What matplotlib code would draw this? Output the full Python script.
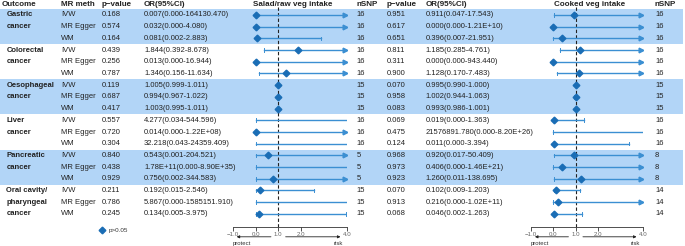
import re
import numpy as np
import matplotlib.pyplot as plt
from matplotlib.patches import Rectangle

plt.rcParams['font.family'] = ['Liberation Sans', 'DejaVu Sans']

# 数据
outcomes = [["Gastric", "cancer"], ["Colorectal", "cancer"], ["Oesophageal", "cancer"],
            ["Liver", "cancer"], ["Pancreatic", "cancer"], ["Oral cavity/", "pharyngeal", "cancer"]]
methods = ["IVW", "MR Egger", "WM"]

salad_p = [0.168, 0.574, 0.164, 0.439, 0.256, 0.787, 0.119, 0.687, 0.417,
           0.557, 0.720, 0.304, 0.840, 0.438, 0.929, 0.211, 0.786, 0.245]
salad_or = ["0.007(0.000-164130.470)", "0.032(0.000-4.080)", "0.081(0.002-2.883)",
            "1.844(0.392-8.678)", "0.013(0.000-16.944)", "1.346(0.156-11.634)",
            "1.005(0.999-1.011)", "0.994(0.967-1.022)", "1.003(0.995-1.011)",
            "4.277(0.034-544.596)", "0.014(0.000-1.22E+08)", "32.218(0.043-24359.409)",
            "0.543(0.001-204.521)", "1.78E+11(0.000-8.90E+35)", "0.756(0.002-344.583)",
            "0.192(0.015-2.546)", "5.867(0.000-1585151.910)", "0.134(0.005-3.975)"]
salad_nsnp = [16, 16, 15, 16, 5, 15]

cooked_p = [0.951, 0.617, 0.651, 0.811, 0.311, 0.900, 0.070, 0.958, 0.083,
            0.069, 0.475, 0.124, 0.968, 0.973, 0.923, 0.070, 0.913, 0.068]
cooked_or = ["0.911(0.047-17.543)", "0.000(0.000-1.21E+10)", "0.396(0.007-21.951)",
             "1.185(0.285-4.761)", "0.000(0.000-943.440)", "1.128(0.170-7.483)",
             "0.995(0.990-1.000)", "1.002(0.944-1.063)", "0.993(0.986-1.001)",
             "0.019(0.000-1.363)", "21576891.780(0.000-8.20E+26)", "0.011(0.000-3.394)",
             "0.920(0.017-50.409)", "0.406(0.000-1.46E+21)", "1.260(0.011-138.695)",
             "0.102(0.009-1.203)", "0.216(0.000-1.02E+11)", "0.046(0.002-1.263)"]
cooked_nsnp = [16, 16, 15, 16, 8, 14]

xticks = [-1, 0, 1, 2, 4]
xticklabels = ["\u22121.0", "0.0", "1.0", "2.0", "4.0"]


def parse(txt):
    return [float(v) for v in re.match(r"(.+)\((.+)-(.+)\)", txt).groups()]


W, H = 685, 246
fig = plt.figure(figsize=(W / 100, H / 100), dpi=100)
ax = fig.add_axes([0, 0, 1, 1])
ax.set_xlim(0, W)
ax.set_ylim(H, 0)
ax.axis('off')

band_c = '#b2d5f7'
line_c = '#3b8fd2'
pt_c = '#1a6db5'
fs = 5.5
hfs = 5.8
txt_c = '#222222'

dy = 11.7
row_y = 15 + dy * np.arange(18)
head_y = 4

# 背景色带
for g in range(0, 6, 2):
    ax.add_patch(Rectangle((0, row_y[3 * g] - dy / 2), 683, 3 * dy, color=band_c, lw=0, zorder=0))

# 表头
heads = [(1.5, "Outcome"), (61, "MR meth"), (101.5, "p\u2212value"), (144, "OR(95%CI)"),
         (356.5, "nSNP"), (386.5, "p\u2212value"), (425.5, "OR(95%CI)"), (655, "nSNP")]
for x, t in heads:
    ax.text(x, head_y, t, fontsize=hfs, fontweight='bold', va='center', color=txt_c)
ax.text(292.5, head_y, "Salad/raw veg intake", fontsize=hfs, fontweight='bold', va='center', ha='center', color=txt_c)
ax.text(589.5, head_y, "Cooked veg intake", fontsize=hfs, fontweight='bold', va='center', ha='center', color=txt_c)

for g, names in enumerate(outcomes):
    for k, nm in enumerate(names):
        ax.text(6.5, row_y[3 * g + k], nm, fontsize=fs, fontweight='bold', va='center', color=txt_c)
    for k in range(3):
        i = 3 * g + k
        y = row_y[i]
        ax.text(61, y, methods[k], fontsize=fs, va='center', color=txt_c)
        ax.text(101.5, y, f"{salad_p[i]:.3f}", fontsize=fs, va='center', color=txt_c)
        ax.text(144, y, salad_or[i], fontsize=fs, va='center', color=txt_c)
        ax.text(356.5, y, str(salad_nsnp[g]), fontsize=fs, va='center', color=txt_c)
        ax.text(386.5, y, f"{cooked_p[i]:.3f}", fontsize=fs, va='center', color=txt_c)
        ax.text(425.5, y, cooked_or[i], fontsize=fs, va='center', color=txt_c)
        ax.text(655, y, str(cooked_nsnp[g]), fontsize=fs, va='center', color=txt_c)

# 图例
ax.plot([101.7], [230], marker='D', ms=3.4, color=pt_c, ls='none')
ax.text(109, 230.5, "p>0.05", fontsize=4.5, va='center', color='#333333')


def forest(x_left, x_right, labels):
    top, bot = 7, 227.3
    fa = fig.add_axes([x_left / W, 1 - bot / H, (x_right - x_left) / W, (bot - top) / H])
    fa.set_facecolor('none')
    xmin, xmax = -1, 4
    fa.set_xlim(xmin, xmax)
    fa.set_ylim(bot, top)
    for s in ['top', 'right', 'left']:
        fa.spines[s].set_visible(False)
    fa.spines['bottom'].set_linewidth(0.6)
    fa.spines['bottom'].set_color('#333333')
    fa.set_yticks([])
    fa.set_xticks(xticks)
    fa.set_xticklabels(xticklabels)
    fa.tick_params(axis='x', length=3, width=0.6, pad=0.5, labelsize=4.4,
                   color='#333333', labelcolor='#666666')
    fa.axvline(1, color='#222222', lw=0.8, ls=(0, (3, 2)), zorder=1)
    cap = 1.8
    for i, t in enumerate(labels):
        e, lo, hi = parse(t)
        y = row_y[i]
        inside = xmin <= e <= xmax
        fa.plot([max(lo, xmin), min(hi, xmax)], [y, y], color=line_c, lw=1.0, zorder=2)
        if lo >= xmin:
            fa.plot([lo, lo], [y - cap, y + cap], color=line_c, lw=0.7, zorder=2)
        if hi <= xmax:
            fa.plot([hi, hi], [y - cap, y + cap], color=line_c, lw=0.7, zorder=2)
        elif inside:
            fa.plot([xmax - 0.09], [y], marker='>', ms=3.4, color=line_c, ls='none', zorder=3)
        if inside:
            fa.plot([e], [y], marker='D', ms=3.4, color=pt_c, ls='none', zorder=4)
    tr = fa.get_xaxis_transform()
    ya = -9.5 / (bot - top)
    fa.annotate('', xy=(-0.95, ya), xytext=(0.8, ya), xycoords=tr, textcoords=tr,
                arrowprops=dict(arrowstyle='-|>', lw=0.6, color='#222222', mutation_scale=4))
    fa.annotate('', xy=(3.85, ya), xytext=(1.2, ya), xycoords=tr, textcoords=tr,
                arrowprops=dict(arrowstyle='-|>', lw=0.6, color='#222222', mutation_scale=4))
    yt = -16 / (bot - top)
    fa.text(-0.6, yt, "protect", transform=tr, fontsize=4.3, ha='center', va='center', color='#333333')
    fa.text(3.65, yt, "risk", transform=tr, fontsize=4.3, ha='center', va='center', color='#333333')
    return fa


forest(232.7, 346.7, salad_or)
forest(531, 642.7, cooked_or)

fig.savefig("out.png", dpi=100)
